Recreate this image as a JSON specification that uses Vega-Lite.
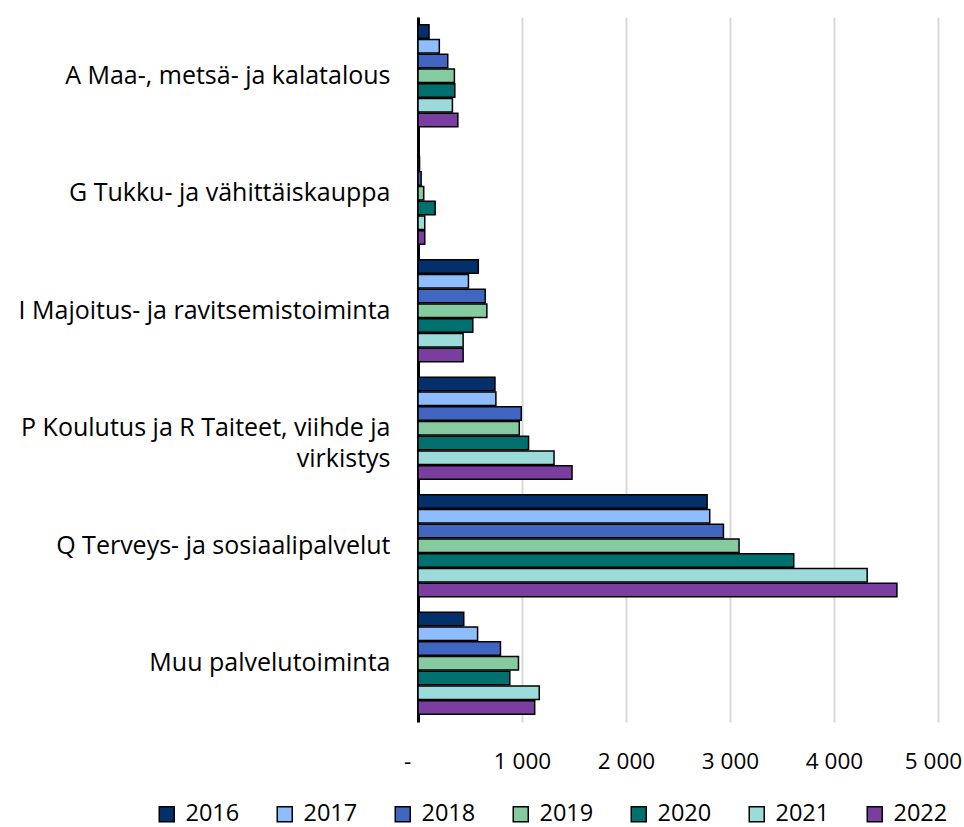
{
  "$schema": "https://vega.github.io/schema/vega-lite/v6.json",
  "autosize": {"type": "none"},
  "width": 520,
  "height": 705,
  "padding": {"left": 418, "top": 17, "right": 26, "bottom": 105},
  "background": "white",
  "config": {"font": "Open Sans", "view": {"stroke": null}},
  "data": {
    "values": [
      {"ala": "A Maa-, metsä- ja kalatalous", "vuosi": "2016", "arvo": 106},
      {"ala": "A Maa-, metsä- ja kalatalous", "vuosi": "2017", "arvo": 205},
      {"ala": "A Maa-, metsä- ja kalatalous", "vuosi": "2018", "arvo": 286},
      {"ala": "A Maa-, metsä- ja kalatalous", "vuosi": "2019", "arvo": 350},
      {"ala": "A Maa-, metsä- ja kalatalous", "vuosi": "2020", "arvo": 354},
      {"ala": "A Maa-, metsä- ja kalatalous", "vuosi": "2021", "arvo": 331},
      {"ala": "A Maa-, metsä- ja kalatalous", "vuosi": "2022", "arvo": 383},
      {"ala": "G Tukku- ja vähittäiskauppa", "vuosi": "2016", "arvo": 5},
      {"ala": "G Tukku- ja vähittäiskauppa", "vuosi": "2017", "arvo": 15},
      {"ala": "G Tukku- ja vähittäiskauppa", "vuosi": "2018", "arvo": 30},
      {"ala": "G Tukku- ja vähittäiskauppa", "vuosi": "2019", "arvo": 55},
      {"ala": "G Tukku- ja vähittäiskauppa", "vuosi": "2020", "arvo": 165},
      {"ala": "G Tukku- ja vähittäiskauppa", "vuosi": "2021", "arvo": 65},
      {"ala": "G Tukku- ja vähittäiskauppa", "vuosi": "2022", "arvo": 65},
      {"ala": "I Majoitus- ja ravitsemistoiminta", "vuosi": "2016", "arvo": 580},
      {"ala": "I Majoitus- ja ravitsemistoiminta", "vuosi": "2017", "arvo": 485},
      {"ala": "I Majoitus- ja ravitsemistoiminta", "vuosi": "2018", "arvo": 646},
      {"ala": "I Majoitus- ja ravitsemistoiminta", "vuosi": "2019", "arvo": 662},
      {"ala": "I Majoitus- ja ravitsemistoiminta", "vuosi": "2020", "arvo": 527},
      {"ala": "I Majoitus- ja ravitsemistoiminta", "vuosi": "2021", "arvo": 434},
      {"ala": "I Majoitus- ja ravitsemistoiminta", "vuosi": "2022", "arvo": 434},
      {"ala": "P Koulutus ja R Taiteet, viihde ja virkistys", "vuosi": "2016", "arvo": 740},
      {"ala": "P Koulutus ja R Taiteet, viihde ja virkistys", "vuosi": "2017", "arvo": 749},
      {"ala": "P Koulutus ja R Taiteet, viihde ja virkistys", "vuosi": "2018", "arvo": 993},
      {"ala": "P Koulutus ja R Taiteet, viihde ja virkistys", "vuosi": "2019", "arvo": 974},
      {"ala": "P Koulutus ja R Taiteet, viihde ja virkistys", "vuosi": "2020", "arvo": 1063},
      {"ala": "P Koulutus ja R Taiteet, viihde ja virkistys", "vuosi": "2021", "arvo": 1308},
      {"ala": "P Koulutus ja R Taiteet, viihde ja virkistys", "vuosi": "2022", "arvo": 1481},
      {"ala": "Q Terveys- ja sosiaalipalvelut", "vuosi": "2016", "arvo": 2780},
      {"ala": "Q Terveys- ja sosiaalipalvelut", "vuosi": "2017", "arvo": 2805},
      {"ala": "Q Terveys- ja sosiaalipalvelut", "vuosi": "2018", "arvo": 2937},
      {"ala": "Q Terveys- ja sosiaalipalvelut", "vuosi": "2019", "arvo": 3087},
      {"ala": "Q Terveys- ja sosiaalipalvelut", "vuosi": "2020", "arvo": 3613},
      {"ala": "Q Terveys- ja sosiaalipalvelut", "vuosi": "2021", "arvo": 4319},
      {"ala": "Q Terveys- ja sosiaalipalvelut", "vuosi": "2022", "arvo": 4605},
      {"ala": "Muu palvelutoiminta", "vuosi": "2016", "arvo": 440},
      {"ala": "Muu palvelutoiminta", "vuosi": "2017", "arvo": 573},
      {"ala": "Muu palvelutoiminta", "vuosi": "2018", "arvo": 793},
      {"ala": "Muu palvelutoiminta", "vuosi": "2019", "arvo": 966},
      {"ala": "Muu palvelutoiminta", "vuosi": "2020", "arvo": 883},
      {"ala": "Muu palvelutoiminta", "vuosi": "2021", "arvo": 1166},
      {"ala": "Muu palvelutoiminta", "vuosi": "2022", "arvo": 1122}
    ]
  },
  "mark": {"type": "bar", "stroke": "black", "strokeWidth": 1.5},
  "encoding": {
    "y": {
      "field": "ala",
      "type": "nominal",
      "sort": null,
      "scale": {"paddingInner": 0.13, "paddingOuter": 0.065},
      "axis": {
        "title": null,
        "ticks": false,
        "domainColor": "black",
        "domainWidth": 3,
        "labelFontSize": 25,
        "labelColor": "black",
        "labelPadding": 28,
        "labelLimit": 410,
        "labelLineHeight": 31,
        "labelExpr": "datum.label == 'P Koulutus ja R Taiteet, viihde ja virkistys' ? ['P Koulutus ja R Taiteet, viihde ja', 'virkistys'] : datum.label"
      }
    },
    "yOffset": {"field": "vuosi", "type": "nominal", "scale": {"paddingInner": 0.08}},
    "x": {
      "field": "arvo",
      "type": "quantitative",
      "scale": {"domain": [0, 5000], "nice": false},
      "axis": {
        "title": null,
        "values": [0, 1000, 2000, 3000, 4000, 5000],
        "domain": false,
        "ticks": false,
        "grid": true,
        "gridColor": "#d9d9d9",
        "gridWidth": 2,
        "labelFontSize": 22.5,
        "labelColor": "black",
        "labelPadding": 28,
        "labelFlush": false,
        "labelOverlap": false,
        "labelBound": false,
        "labelOffset": {"condition": [{"test": "datum.value == 0", "value": -11}, {"test": "datum.value == 5000", "value": -5}], "value": 0},
        "labelExpr": "datum.value == 0 ? '-' : replace(format(datum.value, ','), ',', ' ')"
      }
    },
    "color": {
      "field": "vuosi",
      "type": "nominal",
      "scale": {
        "domain": ["2016", "2017", "2018", "2019", "2020", "2021", "2022"],
        "range": ["#03306B", "#8EBDFF", "#4066C2", "#86CBA0", "#00706E", "#9BDCDA", "#7A3DA0"]
      },
      "legend": {
        "title": null,
        "orient": "none",
        "direction": "horizontal",
        "legendX": -263,
        "legendY": 785,
        "symbolType": "square",
        "symbolSize": 225,
        "symbolStrokeColor": "black",
        "symbolStrokeWidth": 1.5,
        "labelFontSize": 23.5,
        "labelColor": "black",
        "labelOffset": 7,
        "columnPadding": 33
      }
    }
  }
}
